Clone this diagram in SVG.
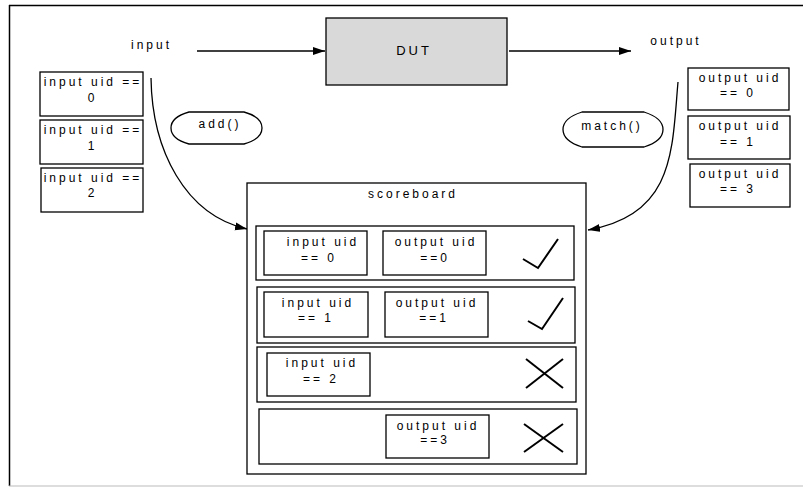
<svg xmlns="http://www.w3.org/2000/svg" width="803" height="487" viewBox="0 0 803 487">
<style>
.t{font-family:"Liberation Sans",Arial,sans-serif;font-size:12px;letter-spacing:3px;fill:#000;text-anchor:middle}
.b{fill:#fff;stroke:#000;stroke-width:1.3}
.c{fill:none;stroke:#000;stroke-width:1.3}
.m{fill:none;stroke:#000;stroke-width:2}
</style>
<defs>
<marker id="ah" markerWidth="12" markerHeight="9" refX="12" refY="4.5" orient="auto" markerUnits="userSpaceOnUse">
<path d="M0,0.5 L12,4.5 L0,8.5 Z" fill="#000"/>
</marker>
</defs>
<rect x="0" y="0" width="803" height="487" fill="#fff"/>
<g id="frame">
<line x1="9" y1="5.5" x2="803" y2="5.5" stroke="#000" stroke-width="1.5"/>
<line x1="9.5" y1="5" x2="9.5" y2="486" stroke="#000" stroke-width="1.5"/>
<line x1="9" y1="486" x2="803" y2="486" stroke="#bbb" stroke-width="1.2"/>
</g>
<g id="connectors">
<line x1="197" y1="51" x2="325" y2="51" class="c" marker-end="url(#ah)"/>
<line x1="509" y1="51" x2="631" y2="51" class="c" marker-end="url(#ah)"/>
<path d="M151,78 C152,150 185,215 247,229" class="c" marker-end="url(#ah)"/>
<path d="M678,82 C672,150 675,215 588,230" class="c" marker-end="url(#ah)"/>
</g>
<g id="input-label"><text class="t" x="151.5" y="49">input</text></g>
<g id="output-label"><text class="t" x="676" y="45">output</text></g>
<g id="dut">
<rect x="326" y="18" width="181" height="67" fill="#d9d9d9" stroke="#000" stroke-width="1.3"/>
<text class="t" x="414" y="55" style="font-size:13px">DUT</text>
</g>
<g id="in0"><rect class="b" x="40" y="72" width="103" height="44"/><text class="t" x="93" y="86">input uid ==</text><text class="t" x="92.5" y="102">0</text></g>
<g id="in1"><rect class="b" x="40" y="120" width="103" height="44"/><text class="t" x="93" y="134">input uid ==</text><text class="t" x="92.5" y="150">1</text></g>
<g id="in2"><rect class="b" x="41" y="168" width="102" height="44"/><text class="t" x="93" y="182">input uid ==</text><text class="t" x="92.5" y="197">2</text></g>
<g id="out0"><rect class="b" x="688" y="68" width="101" height="42"/><text class="t" x="740" y="82">output uid</text><text class="t" x="738" y="97">== 0</text></g>
<g id="out1"><rect class="b" x="688" y="116" width="102" height="43"/><text class="t" x="740" y="130">output uid</text><text class="t" x="738" y="146">== 1</text></g>
<g id="out3"><rect class="b" x="690" y="164" width="100" height="43"/><text class="t" x="740" y="178">output uid</text><text class="t" x="738" y="193">== 3</text></g>
<g id="add"><path class="b" d="M189,112 L244,112 Q262,117 262,128 Q262,139 244,144 L189,144 Q171,139 171,128 Q171,117 189,112 Z"/><text class="t" x="220" y="128">add()</text></g>
<g id="match"><path class="b" d="M582,112 L644,112 Q663,118 663,129.5 Q663,141 644,147 L582,147 Q563,141 563,129.5 Q563,118 582,112 Z"/><text class="t" x="612" y="130">match()</text></g>
<g id="scoreboard">
<rect class="b" x="247" y="183" width="339" height="291"/>
<text class="t" x="413" y="198">scoreboard</text>
</g>
<g id="row1">
<rect class="b" x="256" y="226" width="318" height="54"/>
<rect class="b" x="264" y="231" width="103" height="44"/>
<text class="t" x="323" y="246">input uid</text><text class="t" x="319" y="262">== 0</text>
<rect class="b" x="383" y="231" width="103" height="44"/>
<text class="t" x="436" y="246">output uid</text><text class="t" x="435" y="262">==0</text>
<polyline class="m" points="523,259 538,268 558,239"/>
</g>
<g id="row2">
<rect class="b" x="257" y="287" width="318" height="56"/>
<rect class="b" x="264" y="292" width="104" height="45"/>
<text class="t" x="318" y="307">input uid</text><text class="t" x="316" y="322">== 1</text>
<rect class="b" x="385" y="292" width="103" height="45"/>
<text class="t" x="437" y="307">output uid</text><text class="t" x="434" y="322">==1</text>
<polyline class="m" points="528,321 542,329 563,298"/>
</g>
<g id="row3">
<rect class="b" x="257" y="347" width="319" height="55"/>
<rect class="b" x="267" y="353" width="103" height="43"/>
<text class="t" x="322" y="367">input uid</text><text class="t" x="321" y="383">== 2</text>
<line class="m" x1="526" y1="359" x2="563" y2="388"/><line class="m" x1="526" y1="388" x2="563" y2="359"/>
</g>
<g id="row4">
<rect class="b" x="259" y="409" width="318" height="55"/>
<rect class="b" x="386" y="415" width="103" height="43"/>
<text class="t" x="438" y="430">output uid</text><text class="t" x="435" y="444">==3</text>
<line class="m" x1="524" y1="424" x2="563" y2="452"/><line class="m" x1="524" y1="452" x2="563" y2="424"/>
</g>
</svg>
